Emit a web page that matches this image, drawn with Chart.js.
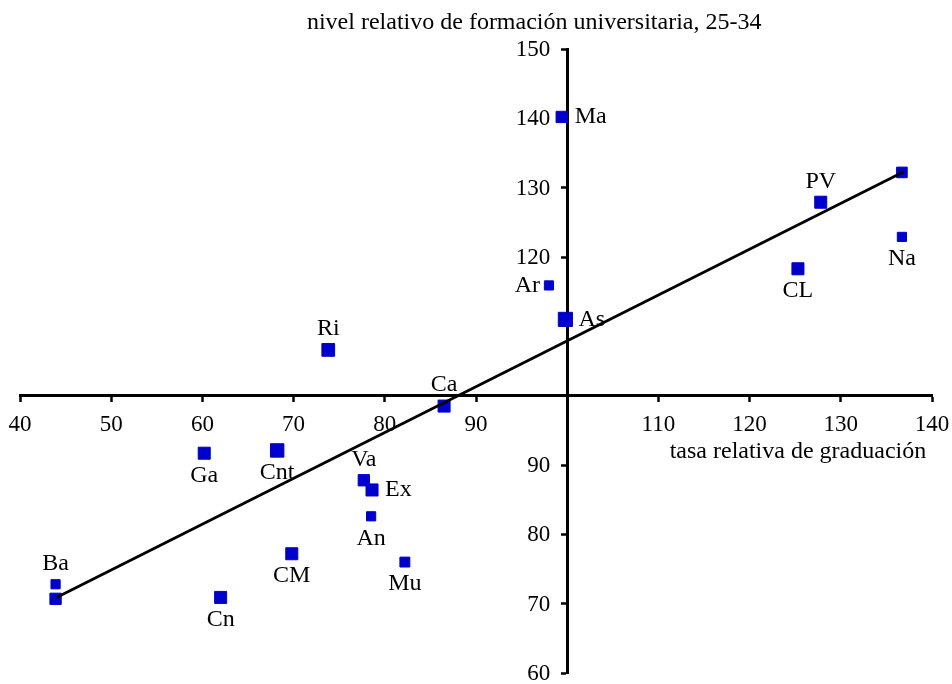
<!DOCTYPE html>
<html>
<head>
<meta charset="utf-8">
<script src="https://cdn.jsdelivr.net/npm/chart.js@4"></script>
<style>
  html, body { margin: 0; padding: 0; background: #fff; }
  #wrap { width: 952px; height: 684px; }
</style>
</head>
<body>
<div id="wrap"><canvas id="scatterChart"></canvas></div>
<script>
// regions (abbreviations) and values
const regions = ['Ma', 'PV', 'Na', 'Na', 'CL', 'Ar', 'As', 'Ri', 'Ca', 'Ga', 'Cnt', 'Va', 'Ex', 'An', 'Mu', 'CM', 'Cn', 'Ba', 'Ba'];
const graduationRate = [99.4, 127.8, 136.7, 136.7, 125.3, 98.0, 99.8, 73.8, 86.5, 60.2, 68.2, 77.7, 78.6, 78.5, 82.2, 69.8, 62.0, 43.9, 43.9];
const universityLevel = [140.2, 127.9, 132.2, 122.9, 118.3, 115.9, 111.0, 106.6, 98.5, 91.7, 92.1, 87.8, 86.4, 82.6, 76.0, 77.2, 70.9, 72.8, 70.7];

// trend line end points
const trendX = [44.0, 136.9];
const trendY = [70.9, 132.3];

const xTicks = [40, 50, 60, 70, 80, 90, 110, 120, 130, 140];
const yTicks = [60, 70, 80, 90, 120, 130, 140, 150];

// label placement and marker size (style only)
const labelSide = ['right', 'above', null, 'below', 'below', 'left', 'right', 'above', 'above', 'below', 'below', 'above', 'right', 'below', 'below', 'below', 'below', 'above', null];
const markerRadius = [8, 8.5, 7.5, 6.5, 8.5, 6.5, 10, 9, 8.5, 8.5, 9.5, 8, 8.5, 6.5, 7, 8.5, 8.5, 6.5, 8];

const FONT = "'Liberation Serif', 'Times New Roman', serif";

const points = graduationRate.map((x, i) => ({ x: x, y: universityLevel[i] }));
const trend = trendX.map((x, i) => ({ x: x, y: trendY[i] }));

const labelPlugin = {
    id: 'pointLabels',
    afterDatasetsDraw(chart) {
        const ctx = chart.ctx;
        const meta = chart.getDatasetMeta(1);
        ctx.save();
        ctx.fillStyle = '#000';
        ctx.font = '24px ' + FONT;
        ctx.textBaseline = 'middle';
        meta.data.forEach((pt, i) => {
            const side = labelSide[i];
            if (!side) return;
            let x = pt.x, y = pt.y;
            if (side === 'above') { ctx.textAlign = 'center'; y -= 21; }
            else if (side === 'below') { ctx.textAlign = 'center'; y += 22; }
            else if (side === 'right') { ctx.textAlign = 'left'; x += 13; }
            else { ctx.textAlign = 'right'; x -= 9; }
            ctx.fillText(regions[i], x, y);
        });

        // axis titles
        const xs = chart.scales.x, ys = chart.scales.y;
        const ax = xs.getPixelForValue(100), ay = ys.getPixelForValue(100);
        ctx.textAlign = 'center';
        ctx.fillText('nivel relativo de formación universitaria, 25-34', ax - 33, 23);
        ctx.fillText('tasa relativa de graduación', xs.getPixelForValue(125.3), ay + 56);

        // tick labels along the crossing axes
        ctx.font = '23px ' + FONT;
        xTicks.forEach(v => ctx.fillText(String(v), xs.getPixelForValue(v), ay + 29));
        ctx.textAlign = 'right';
        yTicks.forEach(v => ctx.fillText(String(v), ax - 17, ys.getPixelForValue(v) + 1));
        ctx.restore();
    }
};

const ctx = document.getElementById('scatterChart').getContext('2d');
const scatterChart = new Chart(ctx, {
    type: 'scatter',
    data: {
        datasets: [{
            type: 'line',
            data: trend,
            borderColor: '#000',
            borderWidth: 2.8,
            pointRadius: 0,
            fill: false
        }, {
            data: points,
            pointStyle: 'rect',
            pointRadius: markerRadius,
            backgroundColor: '#0000cc',
            borderColor: '#0000cc',
            borderWidth: 1
        }]
    },
    options: {
        responsive: true,
        maintainAspectRatio: false,
        animation: false,
        layout: {
            padding: { left: 20, right: 20, top: 49, bottom: 7 }
        },
        scales: {
            x: {
                type: 'linear',
                position: { y: 100 },
                min: 40,
                max: 140,
                afterBuildTicks: axis => { axis.ticks = xTicks.concat([100]).sort((a, b) => a - b).map(v => ({ value: v })); },
                afterFit: axis => { axis.height = 0; },
                ticks: { display: false },
                grid: { drawOnChartArea: false, drawTicks: true, tickLength: 5, color: '#000', tickWidth: 2.5 },
                border: { color: '#000', width: 3 }
            },
            y: {
                type: 'linear',
                position: { x: 100 },
                min: 60,
                max: 150,
                afterBuildTicks: axis => { axis.ticks = yTicks.map(v => ({ value: v })); },
                afterFit: axis => { axis.width = 0; },
                ticks: { display: false },
                grid: { drawOnChartArea: false, drawTicks: true, tickLength: 5, color: '#000', tickWidth: 2.5 },
                border: { color: '#000', width: 3 }
            }
        },
        plugins: {
            legend: { display: false },
            tooltip: { enabled: false }
        }
    },
    plugins: [labelPlugin]
});
</script>
</body>
</html>
